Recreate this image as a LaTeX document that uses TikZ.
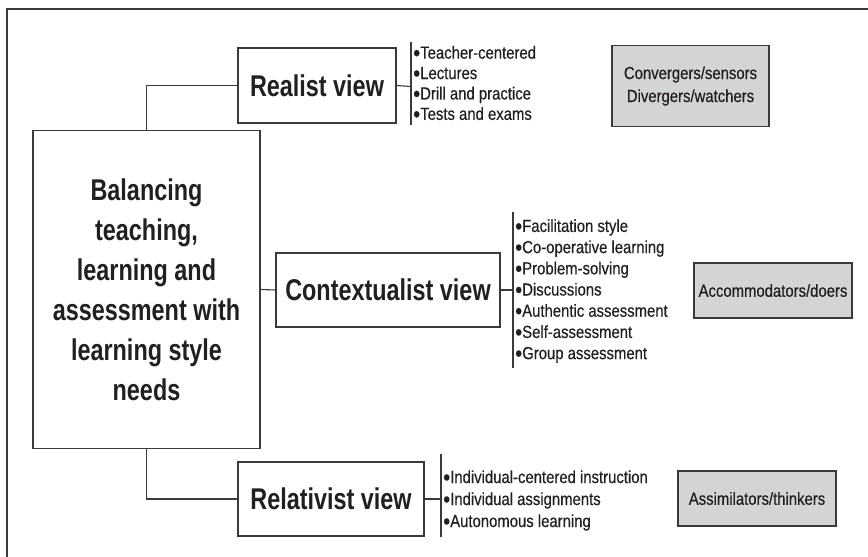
\documentclass[tikz,border=0pt]{standalone}
\usepackage{fontspec}
\usepackage{graphicx}
\setmainfont{Liberation Sans}
\newfontfamily\boxfont[FakeStretch=0.78]{Liberation Sans}
\newfontfamily\listfont[FakeStretch=0.85,FakeBold=0.5]{Liberation Sans}
\newcommand\bul{\smash{\raisebox{-2.3pt}{\scalebox{1.35}{•}}}}
\definecolor{ink}{HTML}{231F20}
\definecolor{linec}{HTML}{3A3A3A}
\definecolor{greyfill}{HTML}{D3D4D5}
\begin{document}
\begin{tikzpicture}[x=1pt,y=-1pt,
  every node/.style={text=ink},
  viewbox/.style={draw=linec, line width=1.2pt, fill=white, inner sep=0pt,
    font=\boxfont\bfseries\fontsize{30}{40}\selectfont, align=center},
  stylebox/.style={draw=linec, line width=1.2pt, fill=greyfill, inner sep=0pt,
    font=\listfont\fontsize{17.5}{23}\selectfont, align=center},
  itemlist/.style={inner sep=0pt, anchor=west, align=left},
  conn/.style={draw=linec, line width=1.1pt}
]
\useasboundingbox (0,0) rectangle (868,557);
% outer frame (top and left)
\draw[draw=linec, line width=1.2pt] (868,9) -- (7,9) -- (7,557);

% main box
\node[viewbox, minimum width=227pt, minimum height=318pt] (main) at (146.5,289.5)
  {Balancing\\teaching,\\learning and\\assessment with\\learning style\\needs};

% view boxes
\node[viewbox, minimum width=158pt, minimum height=75pt] (real) at (317,85.5) {Realist view};
\node[viewbox, minimum width=224pt, minimum height=74pt] (cont) at (388,290) {Contextualist view};
\node[viewbox, minimum width=186pt, minimum height=74pt] (rela) at (331,499) {Relativist view};

% grey boxes
\node[stylebox, minimum width=157pt, minimum height=81pt] (conv) at (690.5,86)
  {Convergers/sensors\\Divergers/watchers};
\node[stylebox, minimum width=158pt, minimum height=55pt] (acco) at (773,290.5) {Accommodators/doers};
\node[stylebox, minimum width=158pt, minimum height=55pt] (assi) at (757,498.5) {Assimilators/thinkers};

% brackets
\coordinate (rtop) at (411,42);
\coordinate (rbot) at (411,125);
\coordinate (rmid) at (411,86.5);
\coordinate (ctop) at (513,212);
\coordinate (cbot) at (513,368);
\coordinate (cmid) at (513,290);
\coordinate (ltop) at (441,454);
\coordinate (lbot) at (441,537);
\coordinate (lmid) at (441,499);
\draw[conn] (rtop) -- (rbot);
\draw[conn] (ctop) -- (cbot);
\draw[conn] (ltop) -- (lbot);

% connectors
\draw[conn] (main.north) |- (real.west);
\draw[conn] (main.east) -- (cont.west);
\draw[conn] (main.south) |- (rela.west);
\draw[conn] (real.east) -- (rmid);
\draw[conn] (cont.east) -- (cmid);
\draw[conn] (rela.east) -- (lmid);

% item lists
\node[itemlist, font=\listfont\fontsize{17.5}{20.4}\selectfont] (rlist) at (413,83)
  {\bul Teacher-centered\\\bul Lectures\\\bul Drill and practice\\\bul Tests and exams};
\node[itemlist, font=\listfont\fontsize{17.5}{21.2}\selectfont] (clist) at (515,291)
  {\bul Facilitation style\\\bul Co-operative learning\\\bul Problem-solving\\\bul Discussions\\\bul Authentic assessment\\\bul Self-assessment\\\bul Group assessment};
\node[itemlist, font=\listfont\fontsize{17.5}{22}\selectfont] (llist) at (443,500.5)
  {\bul Individual-centered instruction\\\bul Individual assignments\\\bul Autonomous learning};
\end{tikzpicture}
\end{document}
